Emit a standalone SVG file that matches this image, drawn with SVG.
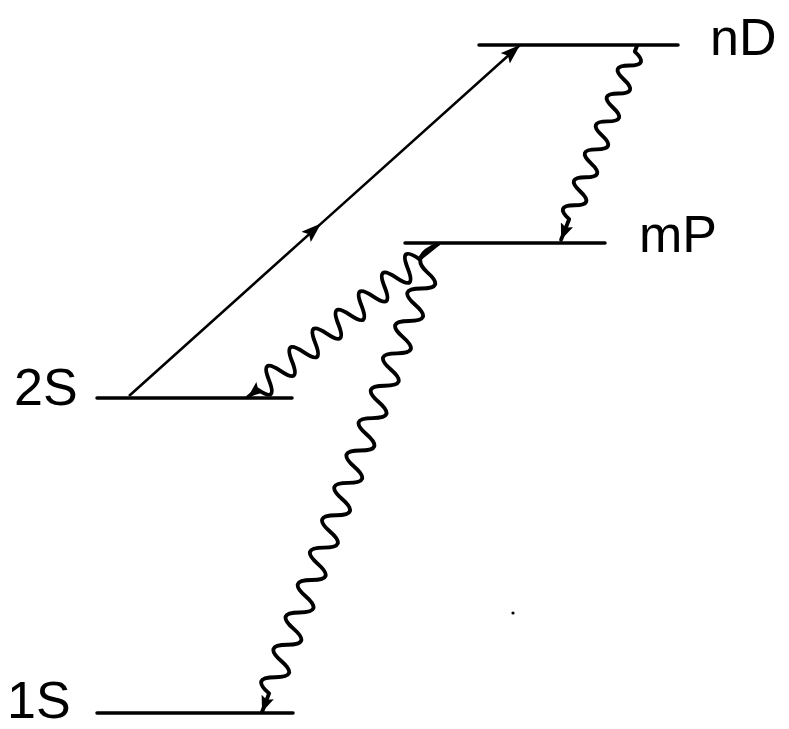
<svg xmlns="http://www.w3.org/2000/svg" width="789" height="729" viewBox="0 0 789 729">
<defs>
<style>
.level{stroke:#000;stroke-width:3.5;stroke-linecap:round}
.photon{fill:none;stroke:#000;stroke-width:3.9;stroke-linecap:round;stroke-linejoin:round}
.excite{fill:none;stroke:#000;stroke-width:2.6}
.lbl{font-family:"Liberation Sans",Arial,sans-serif;font-size:52px;fill:#000}
</style>
<marker id="ah" markerUnits="userSpaceOnUse" viewBox="0 0 20 14" refX="20" refY="7" markerWidth="20" markerHeight="14" orient="auto"><path d="M0,0 L20,7 L0,14 L4,7 z"/></marker>
<marker id="ahw" markerUnits="userSpaceOnUse" viewBox="0 0 16 13" refX="16" refY="6.5" markerWidth="16" markerHeight="13" orient="auto"><path d="M0,0 L16,6.5 L0,13 L3,6.5 z"/></marker>
</defs>
<rect width="789" height="729" fill="#fff"/>
<g id="level-nD"><line class="level" x1="479" y1="45" x2="678" y2="45"/><text class="lbl" x="710" y="55">nD</text></g>
<g id="level-mP"><line class="level" x1="405" y1="243" x2="605" y2="243"/><text class="lbl" x="639" y="252">mP</text></g>
<g id="level-2S"><line class="level" x1="97" y1="398" x2="292" y2="398"/><text class="lbl" x="14" y="405">2S</text></g>
<g id="level-1S"><line class="level" x1="97" y1="713" x2="293" y2="713"/><text class="lbl" x="7" y="718">1S</text></g>
<g id="connectors">
<path class="excite" d="M129,396 L321,223.6 L520,45" marker-mid="url(#ah)" marker-end="url(#ah)"/>
<g transform="translate(637,46) rotate(111.4)"><path class="photon" marker-end="url(#ahw)" d="M0,0 L6,0 Q13.5,-19 21,0 T36,0 T51,0 T66,0 T81,0 T96,0 T111,0 T126,0 T141,0 T156,0 T171,0 T186,0 L208,0"/></g>
<g transform="translate(438,244) rotate(141.15)"><path class="photon" marker-end="url(#ahw)" d="M0,0 L24,0 Q31.43,24 38.85,0 T53.7,0 T68.55,0 T83.4,0 T98.25,0 T113.1,0 T127.95,0 T142.8,0 T157.65,0 T172.5,0 T187.35,0 T202.2,0 T217.05,0 T231.9,0 L244,0"/></g>
<g transform="translate(438,244) rotate(110.6)"><path class="photon" marker-end="url(#ahw)" d="M0,0 Q21.65,23 30.3,0 Q38.95,-23 47.6,0 T64.9,0 T82.2,0 T99.5,0 T116.8,0 T134.1,0 T151.4,0 T168.7,0 T186,0 T203.3,0 T220.6,0 T237.9,0 T255.2,0 T272.5,0 T289.8,0 T307.1,0 T324.4,0 T341.7,0 T359,0 T376.3,0 T393.6,0 T410.9,0 T428.2,0 T445.5,0 T462.8,0 T480.1,0 L500,0"/></g>
</g>
<circle cx="513" cy="613" r="1.6" fill="#000"/>
</svg>
